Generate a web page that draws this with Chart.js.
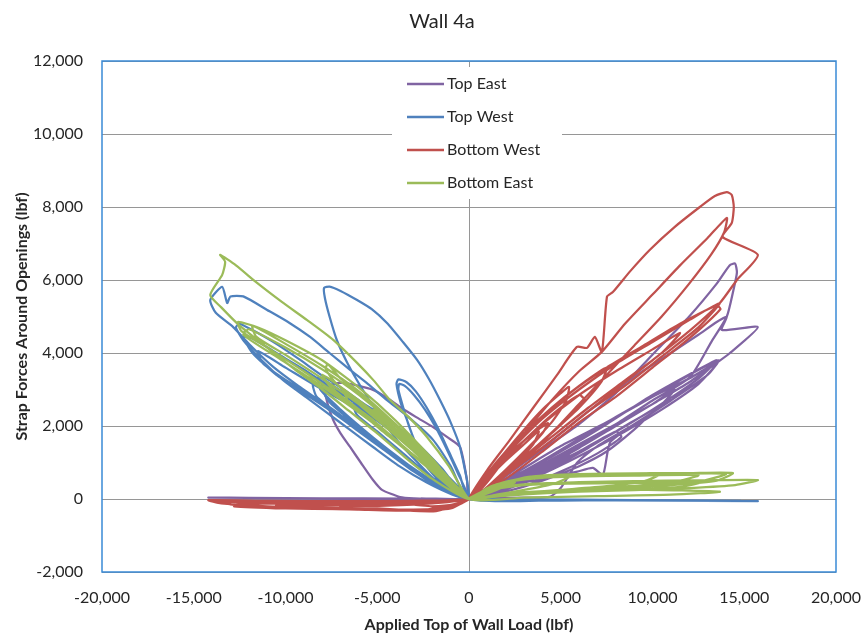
<!DOCTYPE html>
<html>
<head>
<meta charset="utf-8">
<title>Wall 4a</title>
<script src="https://cdn.jsdelivr.net/npm/chart.js@4.4.1/dist/chart.umd.min.js"></script>
<style>
  html, body { margin: 0; padding: 0; background: #ffffff; }
  #wrap { width: 864px; height: 635px; }
</style>
</head>
<body>
<div id="wrap"><canvas id="wallChart" width="864" height="635"></canvas></div>
<script>
// Strap force vs applied load, one [load, force] pair per reading (lbf)
const seriesNames = ['Top East', 'Top West', 'Bottom West', 'Bottom East'];

const xTickValues = [-20000, -15000, -10000, -5000, 0, 5000, 10000, 15000, 20000];
const yTickValues = [-2000, 0, 2000, 4000, 6000, 8000, 10000, 12000];

const topEast = [
  [0,0],[600,120],[1200,260],[1800,420],[1200,250],[500,80],[0,0],
  [-800,0],[-1800,10],[-2600,10],[-1500,0],[0,0],
  [1000,200],[2000,450],[3000,700],[2200,450],[1200,200],[0,0],
  [-1500,0],[-3000,20],[-3760,55],[-4740,250],[-5230,520],[-5900,1000],[-6480,1425],[-7000,1800],[-7400,2165],[-7700,2600],[-7840,2990],[-7400,3150],[-6860,3180],[-6000,3100],[-5230,2990],[-4500,2780],[-3760,2520],[-2900,2250],[-1960,1970],[-1200,1700],[-490,1425],[-110,520],[0,0],
  [1500,300],[3000,650],[4500,1000],[5500,1250],[4500,900],[3000,500],[1500,200],[0,0],
  [-2500,0],[-5000,10],[-7500,20],[-5000,10],[-2000,0],[0,0],
  [1500,250],[3000,450],[4500,600],[5900,750],[6750,850],[7300,660],[7680,1540],[8600,1900],[9700,2250],[9000,1900],[7500,1300],[6000,900],[4000,500],[2000,200],[0,0],
  [2000,350],[4000,800],[6000,1300],[8000,1850],[8300,1700],[7000,1250],[5000,750],[3000,350],[1000,80],[0,0],
  [-3000,0],[-7000,20],[-11000,20],[-12500,30],[-9000,10],[-4500,0],[0,0],
  [2000,500],[4000,1050],[6000,1650],[8000,2250],[10000,2800],[12000,3300],[13560,3750],[12500,3150],[10500,2450],[8500,1850],[6500,1300],[4500,800],[2500,350],[800,80],[0,0],
  [2000,450],[4000,950],[6000,1500],[8000,2050],[10000,2600],[11200,3000],[10500,2600],[8500,2000],[6500,1400],[4500,850],[2500,380],[800,60],[0,0],
  [-3500,10],[-8000,20],[-12000,30],[-14200,40],[-10000,20],[-5000,0],[0,0],
  [2500,700],[5000,1450],[7500,2100],[10000,2800],[12000,3400],[13600,3800],[13000,3400],[11000,2700],[9000,2050],[7000,1450],[5900,1000],[5000,300],[4400,60],[3000,40],[1000,20],[0,0],
  [1500,450],[3000,1000],[5000,1800],[7000,2600],[9000,3350],[11000,4000],[12500,4500],[13500,4850],[14050,4990],[13780,4630],[15740,4710],[14220,4000],[13500,3730],[12000,3200],[10000,2600],[8000,2000],[6000,1400],[4000,850],[2000,350],[0,0],
  [-4000,10],[-9000,20],[-14000,30],[-9000,10],[-3000,0],[0,0],
  [2000,650],[4000,1350],[6000,2050],[8000,2900],[10240,4080],[12000,5000],[13500,5900],[14200,6400],[14500,6450],[14600,6200],[14400,5700],[14050,5000],[13200,4300],[12040,3340],[10000,2700],[8000,2050],[6000,1450],[4000,900],[2000,350],[0,0],
  [2500,600],[5000,1300],[7500,2050],[10000,2850],[12500,3550],[13500,3800],[12500,3300],[10000,2450],[7500,1700],[5000,1050],[2500,450],[0,0]
];

const topWest = [
  [0,0],[1200,-10],[2500,-20],[1200,-10],[0,0],
  [-800,300],[-1600,700],[-2400,1050],[-1500,600],[-600,200],[0,0],
  [2500,-20],[5000,-30],[2500,-20],[0,0],
  [-1000,450],[-2000,900],[-3000,1350],[-3600,1700],[-2600,1200],[-1500,650],[-500,150],[0,0],
  [-1200,500],[-2500,1150],[-3600,1650],[-4500,2100],[-3700,1750],[-2500,1150],[-1200,450],[0,0],
  [3500,-20],[7000,-30],[3500,-20],[0,0],
  [-500,650],[-1100,1300],[-1700,1950],[-2300,2500],[-2900,2950],[-3400,3200],[-3850,3280],[-3950,3150],[-3700,2600],[-3380,2165],[-2900,1500],[-2290,880],[-1400,380],[-600,100],[0,0],
  [-600,700],[-1200,1350],[-1800,1950],[-2400,2450],[-3000,2850],[-3500,3100],[-3800,3150],[-3850,3000],[-3550,2450],[-3200,1900],[-2700,1300],[-2000,750],[-1100,300],[0,0],
  [5000,-30],[9000,-40],[5000,-30],[0,0],
  [-1500,700],[-3000,1400],[-4500,2000],[-6000,2550],[-7200,2950],[-8000,3150],[-7800,2800],[-6800,2300],[-5200,1600],[-3600,1000],[-2000,450],[-700,100],[0,0],
  [-1800,900],[-3500,1700],[-5000,2300],[-6500,2800],[-7700,3200],[-8200,3350],[-8100,3000],[-7000,2450],[-5500,1800],[-4000,1200],[-2400,600],[-900,150],[0,0],
  [-1300,600],[-2600,1200],[-3900,1750],[-5200,2250],[-6300,2600],[-6100,2300],[-5000,1850],[-3700,1300],[-2300,700],[-900,200],[0,0],
  [-490,1425],[-1000,2100],[-1580,2710],[-2200,3300],[-2830,3810],[-3600,4300],[-4470,4820],[-5300,5200],[-6100,5450],[-7000,5700],[-7600,5820],[-7900,5780],[-7850,5500],[-7600,5000],[-7200,4350],[-6600,3700],[-5800,3000],[-4900,2300],[-3900,1600],[-2800,1000],[-1700,450],[-700,120],[0,0],
  [7000,-30],[12000,-40],[14500,-50],[10000,-40],[5000,-30],[0,0],
  [-1500,850],[-3000,1600],[-4500,2200],[-6000,2700],[-7030,3070],[-8200,3450],[-9200,3810],[-10500,4250],[-11700,4600],[-12500,4800],[-12700,4700],[-12300,4350],[-11300,3800],[-10130,3260],[-8900,2800],[-7730,2360],[-6500,1900],[-5230,1425],[-3800,900],[-2300,450],[-900,120],[0,0],
  [-1500,800],[-3000,1500],[-4500,2100],[-6000,2600],[-7500,3050],[-9000,3550],[-10500,4000],[-11800,4400],[-12300,4450],[-11800,4000],[-10500,3400],[-9000,2900],[-7500,2400],[-6000,1850],[-4500,1300],[-3000,750],[-1500,300],[0,0],
  [10000,-40],[15740,-60],[11000,-40],[5000,-20],[0,0],
  [-1000,900],[-1960,1620],[-3200,2200],[-4470,2710],[-5500,3150],[-6480,3540],[-7600,4000],[-8660,4440],[-9800,4830],[-11000,5180],[-12300,5550],[-13000,5550],[-13180,5370],[-13450,5810],[-14100,5450],[-13800,5100],[-12850,4710],[-11800,4150],[-10670,3620],[-9300,3100],[-7950,2630],[-6500,2100],[-5000,1550],[-3760,1070],[-2400,550],[-1000,150],[0,0],
  [-1500,750],[-3000,1450],[-4500,2050],[-6000,2500],[-7500,2900],[-8500,3150],[-8300,2800],[-7000,2300],[-5500,1750],[-4000,1150],[-2500,600],[-1000,150],[0,0],
  [-1400,650],[-2800,1300],[-4200,1850],[-5600,2350],[-7000,2750],[-7900,3000],[-7600,2650],[-6300,2100],[-4800,1500],[-3300,900],[-1800,400],[-600,80],[0,0],
  [-2000,950],[-4000,1800],[-6000,2450],[-8000,3000],[-10000,3600],[-11500,4050],[-11200,3700],[-9500,3100],[-7500,2450],[-5500,1750],[-3500,1000],[-1500,350],[0,0],
  [8000,-40],[14800,-50],[9000,-30],[3000,-10],[0,0]
];

const bottomWest = [
  [0,0],[800,500],[1500,900],[1000,550],[400,150],[0,0],
  [-800,-60],[-1500,-100],[-3000,-150],[-2000,-200],[-800,-150],[0,0],
  [1000,700],[2000,1300],[2600,1600],[1800,1000],[800,350],[0,0],
  [-2000,-120],[-4500,-180],[-7000,-200],[-5000,-280],[-2500,-300],[-800,-200],[0,0],
  [1000,600],[2000,1150],[3000,1600],[4300,2080],[4000,1800],[3000,1250],[2000,750],[900,250],[0,0],
  [1000,650],[2000,1300],[3000,1900],[4000,2450],[5000,2900],[5450,3070],[5300,2700],[4500,2100],[3300,1450],[2000,800],[800,250],[0,0],
  [1000,550],[2000,1050],[3000,1500],[3800,1850],[3500,1500],[2500,950],[1500,500],[500,120],[0,0],
  [-3000,-100],[-6000,-120],[-9000,-130],[-12500,-120],[-12800,-200],[-10000,-260],[-7000,-280],[-4000,-300],[-1800,-330],[0,0],
  [1500,1000],[3000,1800],[4500,2500],[6000,3100],[7500,3600],[7200,3200],[6000,2500],[4500,1800],[3000,1100],[1500,450],[0,0],
  [1500,850],[3000,1600],[4500,2300],[6000,2850],[6300,2700],[5200,2150],[3800,1500],[2300,850],[900,250],[0,0],
  [2000,1200],[4000,2200],[6000,3000],[8000,3700],[10000,4300],[12000,4900],[13670,5370],[12500,4700],[10500,3900],[8500,3100],[6500,2400],[4500,1600],[2500,850],[1000,250],[0,0],
  [-3000,-50],[-7000,-60],[-11000,-50],[-14200,-30],[-13500,-120],[-11000,-200],[-8000,-230],[-5000,-260],[-2500,-300],[0,0],
  [1500,1000],[3500,2000],[5500,2900],[7500,3600],[9500,4200],[11500,4800],[13500,5300],[13700,5200],[12000,4400],[10000,3600],[8000,2800],[6000,2100],[4000,1300],[2000,550],[0,0],
  [2000,1100],[4000,2050],[6000,2850],[8000,3500],[10000,4100],[11500,4550],[10500,4000],[8500,3250],[6500,2500],[4500,1700],[2500,900],[800,200],[0,0],
  [1000,800],[2200,1600],[3500,2500],[4800,3400],[5880,4166],[6430,4140],[6860,4440],[7240,4030],[7520,5540],[7840,5670],[8800,6250],[9860,6830],[11200,7450],[12580,8000],[13400,8300],[14050,8410],[14320,8330],[14430,8000],[14320,7565],[13830,7180],[15740,6690],[14600,6000],[13670,5370],[12000,4600],[10000,3800],[8000,3000],[6000,2200],[4000,1400],[2000,650],[700,150],[0,0],
  [-3000,-80],[-6000,-100],[-9000,-110],[-12000,-100],[-13800,-60],[-12500,-180],[-9500,-230],[-6500,-260],[-3500,-290],[-1200,-250],[0,0],
  [1500,900],[3000,1800],[4500,2700],[6000,3500],[7240,4030],[8500,4800],[10000,5600],[11500,6400],[13000,7150],[14050,7700],[13900,7300],[13200,6700],[12000,5900],[10500,5000],[9000,4200],[7500,3400],[6000,2600],[4500,1800],[3000,1100],[1500,450],[0,0],
  [-2000,-100],[-5000,-150],[-8000,-170],[-10500,-160],[-9000,-250],[-6000,-290],[-3000,-320],[-1000,-260],[0,0]
];

const bottomEast = [
  [0,0],[800,200],[1600,350],[2500,450],[1500,250],[600,80],[0,0],
  [-1000,450],[-2000,950],[-3000,1450],[-2200,1000],[-1000,400],[0,0],
  [1000,300],[2500,500],[4000,580],[5500,620],[4500,400],[3000,250],[1500,120],[0,0],
  [-1500,750],[-3000,1450],[-4500,2150],[-5200,2450],[-4300,1950],[-2800,1250],[-1300,500],[0,0],
  [1300,330],[3160,600],[5000,650],[7000,680],[9000,690],[10500,700],[9500,480],[7500,350],[5000,250],[2500,150],[800,50],[0,0],
  [-1500,800],[-3000,1550],[-4500,2250],[-6000,2900],[-7000,3300],[-7700,3700],[-7800,3550],[-7300,3200],[-6000,2600],[-4500,1950],[-3000,1300],[-1500,600],[0,0],
  [-1500,750],[-3000,1450],[-4500,2100],[-6000,2700],[-7500,3250],[-8000,3400],[-7600,3100],[-6200,2500],[-4700,1850],[-3200,1250],[-1600,600],[0,0],
  [-1800,850],[-3600,1650],[-5400,2400],[-6800,2950],[-6600,2700],[-5200,2150],[-3600,1450],[-1900,700],[-600,150],[0,0],
  [2000,150],[5000,230],[9000,260],[13670,200],[11000,120],[7000,80],[3000,40],[0,0],
  [-2000,1100],[-4000,2150],[-6000,3050],[-8000,3800],[-10000,4350],[-11500,4700],[-12600,4850],[-12400,4600],[-11000,4150],[-9000,3500],[-7000,2800],[-5000,2050],[-3000,1200],[-1200,450],[0,0],
  [1500,400],[3500,620],[6000,680],[9000,700],[12000,710],[14380,710],[13500,500],[11000,380],[8000,300],[5000,230],[2500,150],[800,50],[0,0],
  [-2000,1000],[-4000,2000],[-6000,2850],[-8000,3550],[-10000,4150],[-12000,4650],[-12300,4500],[-10500,3900],[-8500,3250],[-6500,2550],[-4500,1800],[-2500,1000],[-1000,350],[0,0],
  [1200,250],[3000,380],[5500,420],[8500,440],[11500,460],[12800,470],[11500,330],[9000,270],[6000,220],[3000,140],[1000,40],[0,0],
  [-2000,1050],[-4000,2050],[-6000,2950],[-8000,3650],[-10000,4250],[-11800,4750],[-11600,4450],[-10000,3950],[-8000,3300],[-6000,2600],[-4000,1850],[-2000,950],[-700,250],[0,0],
  [1500,300],[3500,420],[6000,460],[9000,490],[12500,510],[15740,520],[14500,380],[12000,300],[9000,240],[6000,200],[3000,130],[1000,50],[0,0],
  [-1100,900],[-2290,1700],[-3300,2250],[-4300,2710],[-5200,3250],[-6100,3730],[-7400,4360],[-8820,4900],[-10200,5400],[-11550,5920],[-12700,6400],[-13560,6690],[-13290,6500],[-13450,6140],[-14100,5590],[-13500,5250],[-12500,4750],[-11000,4150],[-9500,3550],[-8000,3000],[-6500,2400],[-5000,1800],[-3500,1150],[-2000,550],[-700,150],[0,0],
  [1200,350],[3000,560],[6000,620],[9000,640],[12500,650],[11000,450],[8000,330],[5000,250],[2000,120],[0,0],
  [1500,380],[3500,600],[6500,660],[10000,680],[14000,690],[12500,470],[9500,360],[6500,280],[3500,180],[1200,60],[0,0]
];

const seriesData = [topEast, topWest, bottomWest, bottomEast];
const seriesColors = ['#8064A2', '#4F81BD', '#C0504D', '#9BBB59'];

const gridGray = '#969696';
const frameBlue = '#3A8AD6';
const textColor = '#262626';
const fontFamily = 'Lato, "Liberation Sans", sans-serif';

// chart title, drawn above the plot area
const titlePlugin = {
    id: 'wallTitle',
    afterDraw(chart) {
        const ctx = chart.ctx;
        ctx.save();
        ctx.font = '20px ' + fontFamily;
        ctx.fillStyle = textColor;
        ctx.textAlign = 'center';
        ctx.textBaseline = 'middle';
        ctx.fillText('Wall 4a', 442, 22);
        ctx.restore();
    }
};

// blue frame around the plot area plus the boxed legend inside it
const framePlugin = {
    id: 'plotFrame',
    afterDraw(chart) {
        const ctx = chart.ctx;
        const a = chart.chartArea;
        ctx.save();

        // legend box (white, hides the grid behind it)
        const box = { x: 392, y: 67, w: 170, h: 132 };
        ctx.fillStyle = '#ffffff';
        ctx.fillRect(box.x, box.y, box.w, box.h);
        ctx.font = '16px ' + fontFamily;
        ctx.textAlign = 'left';
        ctx.textBaseline = 'middle';
        seriesNames.forEach((name, i) => {
            const y = 84 + i * 33;
            ctx.strokeStyle = seriesColors[i];
            ctx.lineWidth = 2.5;
            ctx.beginPath();
            ctx.moveTo(407, y);
            ctx.lineTo(444, y);
            ctx.stroke();
            ctx.fillStyle = textColor;
            ctx.fillText(name, 447, y);
        });

        ctx.strokeStyle = frameBlue;
        ctx.lineWidth = 1.5;
        ctx.strokeRect(a.left, a.top, a.right - a.left, a.bottom - a.top);
        ctx.restore();
    }
};

const numberLabel = v => Number(v).toLocaleString('en-US');

const chart = new Chart(document.getElementById('wallChart'), {
    type: 'scatter',
    data: {
        datasets: seriesNames.map((name, i) => ({
            label: name,
            data: seriesData[i],
            showLine: true,
            borderColor: seriesColors[i],
            backgroundColor: seriesColors[i],
            borderWidth: 2.25,
            pointRadius: 0,
            tension: 0.2,
            fill: false,
            order: seriesNames.length - i // later series drawn on top
        }))
    },
    options: {
        responsive: false,
        animation: false,
        events: [],
        layout: { padding: { top: 61, right: 28, left: 0, bottom: 0 } },
        plugins: {
            legend: { display: false },
            title: { display: false },
            tooltip: { enabled: false }
        },
        scales: {
            x: {
                type: 'linear',
                min: -20000,
                max: 20000,
                afterBuildTicks: scale => { scale.ticks = xTickValues.map(v => ({ value: v })); },
                afterFit: scale => {
                    scale.height = 63;
                    // the end labels may overhang the plot edges
                    scale.paddingLeft = 0;
                    scale.paddingRight = 0;
                },
                grid: {
                    color: c => (c.tick && c.tick.value === 0) ? gridGray : 'rgba(0,0,0,0)',
                    lineWidth: 1,
                    drawTicks: false
                },
                border: { display: false },
                ticks: {
                    padding: 16,
                    maxRotation: 0,
                    autoSkip: false,
                    color: textColor,
                    font: { family: fontFamily, size: 16 },
                    callback: numberLabel
                },
                title: {
                    display: true,
                    text: 'Applied Top of Wall Load (lbf)',
                    color: textColor,
                    font: { family: fontFamily, size: 16, weight: 'bold' },
                    padding: { top: 0, bottom: 1 }
                }
            },
            y: {
                type: 'linear',
                min: -2000,
                max: 12000,
                afterBuildTicks: scale => { scale.ticks = yTickValues.map(v => ({ value: v })); },
                afterFit: scale => {
                    scale.width = 102;
                    scale.paddingTop = 0;
                    scale.paddingBottom = 0;
                },
                grid: {
                    color: gridGray,
                    lineWidth: 1,
                    drawTicks: false
                },
                border: { display: false },
                ticks: {
                    padding: 19,
                    autoSkip: false,
                    color: textColor,
                    font: { family: fontFamily, size: 16 },
                    callback: numberLabel
                },
                title: {
                    display: true,
                    text: 'Strap Forces Around Openings (lbf)',
                    color: textColor,
                    font: { family: fontFamily, size: 16, weight: 'bold' },
                    padding: { top: 12, bottom: 0 }
                }
            }
        }
    },
    plugins: [titlePlugin, framePlugin]
});
</script>
</body>
</html>
